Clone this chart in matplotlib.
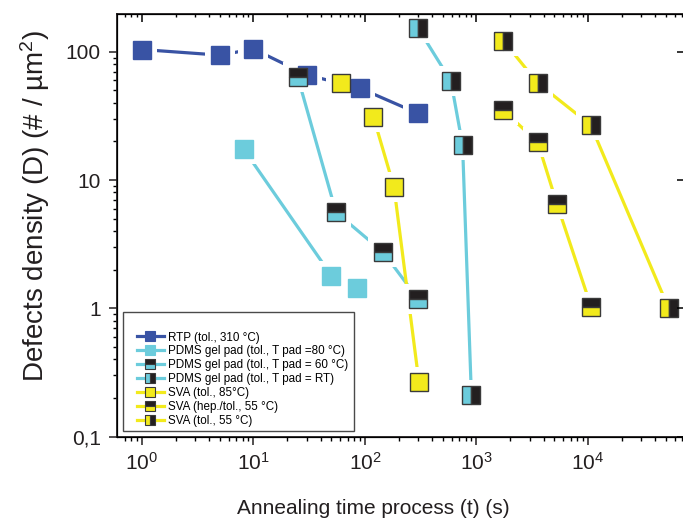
import matplotlib
matplotlib.use('Agg')
import matplotlib.pyplot as plt
from matplotlib.lines import Line2D
from matplotlib.patches import Rectangle
from matplotlib.ticker import LogLocator, FixedLocator, FixedFormatter, NullFormatter, NullLocator

plt.rcParams['font.family'] = ['Liberation Sans', 'DejaVu Sans']
plt.rcParams['mathtext.fontset'] = 'custom'
plt.rcParams['mathtext.rm'] = 'Liberation Sans'
plt.rcParams['mathtext.it'] = 'Liberation Sans:italic'
plt.rcParams['mathtext.bf'] = 'Liberation Sans:bold'

# ---------------- data ----------------
rtp_t = [1, 5, 10, 30, 90, 300]
rtp_d = [104, 94, 105, 66, 52, 33]
pdms80_t = [8.2, 50, 85]
pdms80_d = [17.3, 1.8, 1.45]
pdms60_t = [25, 55, 145, 300]
pdms60_d = [63, 5.6, 2.75, 1.18]
pdmsrt_t = [300, 590, 750, 900]
pdmsrt_d = [152, 59, 18.7, 0.21]
sva85_t = [61, 119, 182, 305]
sva85_d = [57, 31, 8.8, 0.265]
svahep_t = [1740, 3540, 5270, 10700]
svahep_d = [35, 19.7, 6.5, 1.02]
sva55_t = [1740, 3540, 10570, 52900]
sva55_d = [122, 57, 26.8, 1.0]

labels = ['RTP (tol., 310 \u00b0C)',
          'PDMS gel pad (tol., T pad =80 \u00b0C)',
          'PDMS gel pad (tol., T pad = 60 \u00b0C)',
          'PDMS gel pad (tol., T pad = RT)',
          'SVA (tol., 85\u00b0C)',
          'SVA (hep./tol., 55 \u00b0C)',
          'SVA (tol., 55 \u00b0C)']

y_ticks = [0.1, 1, 10, 100]
y_ticklabels = ['0,1', '1', '10', '100']

BLUE = '#3953A4'
CYAN = '#6CCCDC'
YEL = '#F2EA1C'
BLK = '#231F20'
EDGE = '#3a3a3a'

series = [
    (rtp_t, rtp_d, dict(lc=BLUE, mfc=BLUE, alt=BLUE, fs='full', mec=BLUE)),
    (pdms80_t, pdms80_d, dict(lc=CYAN, mfc=CYAN, alt=CYAN, fs='full', mec=CYAN)),
    (pdms60_t, pdms60_d, dict(lc=CYAN, mfc=BLK, alt=CYAN, fs='top', mec=EDGE)),
    (pdmsrt_t, pdmsrt_d, dict(lc=CYAN, mfc=CYAN, alt=BLK, fs='left', mec=EDGE)),
    (sva85_t, sva85_d, dict(lc=YEL, mfc=YEL, alt=YEL, fs='full', mec=EDGE)),
    (svahep_t, svahep_d, dict(lc=YEL, mfc=BLK, alt=YEL, fs='top', mec=EDGE)),
    (sva55_t, sva55_d, dict(lc=YEL, mfc=YEL, alt=BLK, fs='left', mec=EDGE)),
]

W, H = 683, 523
fig = plt.figure(figsize=(W / 100, H / 100), dpi=100)
L, R, T, B = 117.3, 688, 14, 436.7
ax = fig.add_axes([L / W, 1 - B / H, (R - L) / W, (B - T) / H])
ax.set_xscale('log')
ax.set_yscale('log')
ax.set_xlim(0.6005, 78870)
ax.set_ylim(0.1, 196.7)

MS = 13
for t, d, s in series:
    ax.plot(t, d, color=s['lc'], lw=2.3, zorder=2, solid_capstyle='butt')
for t, d, s in series:
    ax.plot(t, d, ls='none', marker='s', ms=MS + 8, mfc='white', mec='white', mew=0, zorder=3)
for t, d, s in series:
    ax.plot(t, d, ls='none', marker='s', ms=MS, mfc=s['mfc'], markerfacecoloralt=s['alt'],
            fillstyle=s['fs'], mec=s['mec'], mew=1.0, zorder=4, clip_on=False)

# ticks
ax.xaxis.set_major_locator(LogLocator(base=10, numticks=20))
ax.xaxis.set_minor_locator(LogLocator(base=10, subs=range(2, 10), numticks=20))
ax.xaxis.set_minor_formatter(NullFormatter())
ax.yaxis.set_major_locator(FixedLocator(y_ticks))
ax.yaxis.set_major_formatter(FixedFormatter(y_ticklabels))
ax.yaxis.set_minor_locator(LogLocator(base=10, subs=range(2, 10), numticks=20))
ax.yaxis.set_minor_formatter(NullFormatter())
ax.tick_params(which='major', direction='out', length=5.8, width=1.1, labelsize=15, colors='#231F20', pad=5)
ax.tick_params(which='minor', direction='out', length=2.9, width=1.0)
ax.tick_params(axis='y', which='major', pad=6)
for sp in ax.spines.values():
    sp.set_linewidth(1.3)
    sp.set_color('#231F20')

axt = ax.twiny()
axt.set_xscale('log')
axt.set_xlim(ax.get_xlim())
axt.xaxis.set_major_locator(LogLocator(base=10, numticks=20))
axt.xaxis.set_minor_locator(LogLocator(base=10, subs=range(2, 10), numticks=20))
axt.tick_params(axis='x', which='major', direction='in', length=5.5, width=1.1, labeltop=False)
axt.tick_params(axis='x', which='minor', direction='in', length=2.4, width=1.0)
axt.xaxis.set_major_formatter(NullFormatter())
axt.xaxis.set_minor_formatter(NullFormatter())

axr = ax.twinx()
axr.set_yscale('log')
axr.set_ylim(ax.get_ylim())
axr.yaxis.set_major_locator(FixedLocator(y_ticks))
axr.yaxis.set_minor_locator(NullLocator())
axr.yaxis.set_major_formatter(NullFormatter())
axr.tick_params(axis='y', which='major', direction='in', length=8, width=1.1, labelright=False)

# legend
handles = [Line2D([0], [0], color=s['lc'], lw=2.3, marker='s', ms=7.5, mfc=s['mfc'],
                  markerfacecoloralt=s['alt'], fillstyle=s['fs'], mec=s['mec'], mew=0.8)
           for _, _, s in series]
rect = Rectangle((0.0095, 0.0135), 0.4053, 0.282, transform=ax.transAxes,
                 facecolor='white', edgecolor='#4a4a4a', lw=1.0, zorder=6)
ax.add_patch(rect)
leg = ax.legend(handles, labels, loc='lower left', bbox_to_anchor=(0.034, 0.022),
                frameon=False, fontsize=8.4, handlelength=2.3, handletextpad=0.4,
                labelspacing=0.17, borderaxespad=0, borderpad=0)
leg.set_zorder(7)

fig.text(35 / W, 1 - 206 / H, 'Defects density (D) (# / \u00b5m$^2$)', rotation=90,
         ha='center', va='center', fontsize=20, color='#231F20')
fig.text(373 / W, 1 - 508 / H, 'Annealing time process (t) (s)', ha='center', va='center',
         fontsize=15, color='#231F20')

fig.savefig('out.png', dpi=100)
